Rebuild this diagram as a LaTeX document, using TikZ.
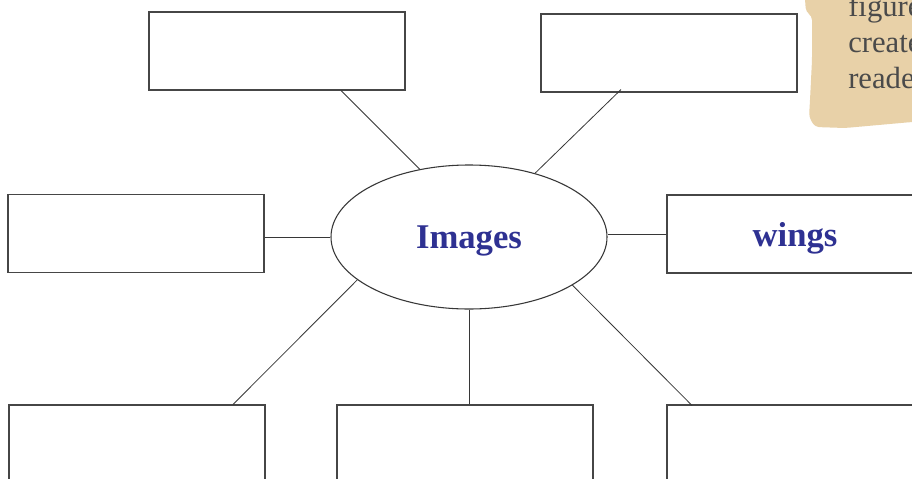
\documentclass[tikz,border=0pt]{standalone}
\usepackage{fontspec}
\setmainfont{Liberation Serif}
\usetikzlibrary{shapes.geometric,calc}
\definecolor{boxline}{RGB}{70,70,70}
\definecolor{connline}{RGB}{55,55,55}
\definecolor{ink}{RGB}{46,49,146}
\definecolor{notetan}{RGB}{232,209,168}
\definecolor{notetext}{RGB}{74,74,74}
\begin{document}
\begin{tikzpicture}[x=0.75pt,y=-0.75pt,
  box/.style={draw=boxline,line width=0.8pt,fill=white,rectangle,
    minimum width=192pt,minimum height=58.5pt,inner sep=0pt,
    text=ink,font=\fontsize{26}{30}\selectfont\bfseries,text depth=0pt},
  hub/.style={ellipse,draw=connline,line width=0.8pt,fill=white,
    minimum width=207pt,minimum height=108pt,inner sep=0pt,
    text=ink,font=\fontsize{26}{30}\selectfont\bfseries,text depth=0pt},
  link/.style={draw=connline,line width=0.6pt},
  notelabel/.style={anchor=base west,inner sep=0pt,text=notetext,
    font=\fontsize{23}{27}\selectfont}]
\useasboundingbox (0,0) rectangle (912,478);
\clip (0,0) rectangle (912,478);
\fill[white] (0,0) rectangle (912,478);
% note
\fill[notetan,rounded corners=3pt] (805,0) -- (806,12) -- (812,16) -- (812,60)
  -- (810,100) -- (809,117) -- (815,127) -- (845,128) -- (912,122) -- (925,122)
  -- (925,-5) -- (805,-5) -- cycle;
\node[notelabel] (n1) at (848,17) {figure};
\node[notelabel] (n2) at (848,53) {create};
\node[notelabel] (n3) at (848,88) {reade};
% boxes
\node[box] (tl) at (277,51) {};
\node[box] (tr) at (669,53) {};
\node[box] (ml) at (136,233.5) {};
\node[box] (mr) at (795,234) {wings};
\node[box] (bl) at (137,444) {};
\node[box] (bm) at (465,444) {};
\node[box] (br) at (795,444) {};
% hub
\node[hub] (el) at (469,237) {Images};
% connectors
\draw[link] ($(tl.south)+(64,0)$) -- (el.126);
\draw[link] ($(tr.south)+(-48,-3)$) -- (el.44);
\draw[link] (ml.east |- el.west) -- (el.west);
\draw[link] (mr.west) -- (el.east |- mr.west);
\draw[link] (el.201) -- ($(bl.north)+(96,0)$);
\draw[link] (el.south) -- (el.south |- bm.north);
\draw[link] (el.335) -- ($(br.north)+(-103,1)$);
\end{tikzpicture}
\end{document}
